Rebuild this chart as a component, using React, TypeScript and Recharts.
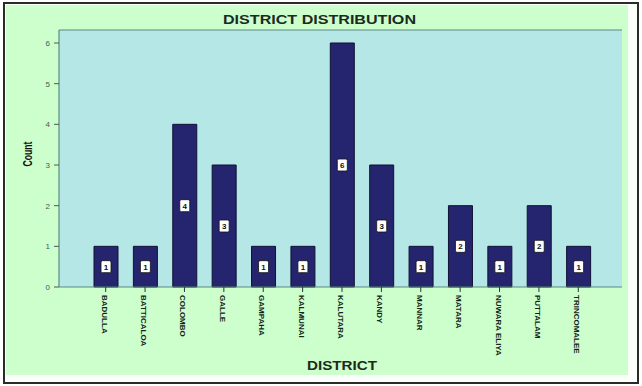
import { Bar, BarChart, CartesianGrid, LabelList, ReferenceLine, XAxis, YAxis } from 'recharts'

const districts = [
  'BADULLA',
  'BATTICALOA',
  'COLOMBO',
  'GALLE',
  'GAMPAHA',
  'KALMUNAI',
  'KALUTARA',
  'KANDY',
  'MANNAR',
  'MATARA',
  'NUWARA ELIYA',
  'PUTTALAM',
  'TRINCOMALEE'
]
const counts = [1, 1, 4, 3, 1, 1, 6, 3, 1, 2, 1, 2, 1]
const yTicks = [0, 1, 2, 3, 4, 5, 6]

const data = districts.map((name, i) => ({ name, count: counts[i] }))

const font = 'Arial, "Liberation Sans", sans-serif'
const frame = '#5b8a80'

function DistrictTick(props: any) {
  const { x, y, payload } = props
  return (
    <text
      x={0}
      y={0}
      transform={`translate(${x - 4},${y + 1}) rotate(90)`}
      fontSize={8}
      fontWeight={600}
      fontFamily={font}
      fill="#14241a"
      textAnchor="start"
    >
      {payload.value}
    </text>
  )
}

function CountTick(props: any) {
  const { x, y, payload } = props
  return (
    <text x={x - 2} y={y + 3} fontSize={8} fontFamily={font} fill="#4a5a52" textAnchor="end">
      {payload.value}
    </text>
  )
}

function ValueBox(props: any) {
  const { x, y, width, height, value } = props
  const cx = x + width / 2
  const cy = y + height / 2
  return (
    <g>
      <rect x={cx - 5} y={cy - 6} width={10} height={12} rx={1.5} fill="#ffffff" stroke="#111" strokeWidth={0.8} />
      <text x={cx} y={cy + 3} fontSize={8} fontWeight="bold" fontFamily={font} fill="#111" textAnchor="middle">
        {value}
      </text>
    </g>
  )
}

export default function App() {
  return (
    <div style={{ position: 'fixed', left: 0, top: 0, width: 642, height: 386, background: '#ffffff' }}>
      <div
        style={{
          position: 'absolute',
          left: 3,
          top: 2,
          width: 632,
          height: 378,
          border: '2px solid #2a2a2a',
          background: '#fbfffb'
        }}
      />
      <div style={{ position: 'absolute', left: 6, top: 5, width: 622, height: 370, background: '#ccffcc' }} />
      <svg style={{ position: 'absolute', left: 0, top: 0 }} width={642} height={386}>
        <text
          x={319.5}
          y={24}
          fontSize={12.5}
          fontWeight="bold"
          fontFamily={font}
          fill="#1c2a20"
          textAnchor="middle"
          textLength={193}
          lengthAdjust="spacingAndGlyphs"
        >
          DISTRICT DISTRIBUTION
        </text>
        <text
          x={342}
          y={369.5}
          fontSize={12}
          fontWeight="bold"
          fontFamily={font}
          fill="#1c2a20"
          textAnchor="middle"
          textLength={70}
          lengthAdjust="spacingAndGlyphs"
        >
          DISTRICT
        </text>
        <text
          x={0}
          y={0}
          transform="translate(32,154) rotate(-90)"
          fontSize={12}
          fontWeight="bold"
          fontFamily={font}
          fill="#111"
          textAnchor="middle"
          textLength={25}
          lengthAdjust="spacingAndGlyphs"
        >
          Count
        </text>
      </svg>
      <div style={{ position: 'absolute', left: 0, top: 0 }}>
        <BarChart width={642} height={386} data={data} margin={{ top: 30, right: 20, bottom: 0, left: 0 }}>
          <CartesianGrid fill="#b5e7e6" fillOpacity={1} horizontal={false} vertical={false} />
          <XAxis
            dataKey="name"
            height={99}
            interval={0}
            padding={{ left: 27, right: 24 }}
            axisLine={{ stroke: frame, strokeWidth: 1.2 }}
            tickLine={{ stroke: '#2a3a30' }}
            tickSize={5}
            tick={<DistrictTick />}
          />
          <YAxis
            width={59}
            domain={[0, 6.32]}
            ticks={yTicks}
            axisLine={{ stroke: frame, strokeWidth: 1.2 }}
            tickLine={{ stroke: '#4a5a52' }}
            tickSize={5}
            tick={<CountTick />}
          />
          <YAxis
            yAxisId="right"
            orientation="right"
            width={0}
            domain={[0, 6.32]}
            tick={false}
            tickLine={false}
            axisLine={{ stroke: frame, strokeWidth: 1.2 }}
          />
          <ReferenceLine y={6.32} stroke={frame} strokeWidth={1.2} ifOverflow="visible" />
          <Bar dataKey="count" fill="#25256f" stroke="#111133" strokeWidth={1} barSize={24} isAnimationActive={false}>
            <LabelList dataKey="count" content={<ValueBox />} />
          </Bar>
        </BarChart>
      </div>
    </div>
  )
}
